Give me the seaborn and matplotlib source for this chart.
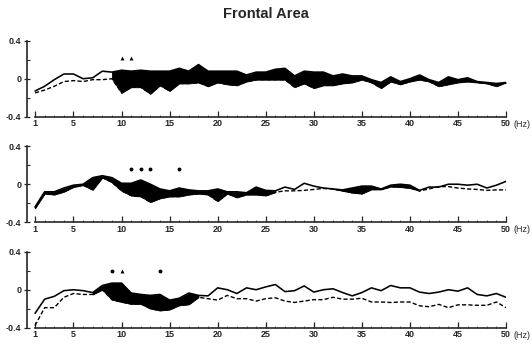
import numpy as np
import pandas as pd
import matplotlib
matplotlib.use("Agg")
import matplotlib.pyplot as plt
import seaborn as sns

# frequency bins (Hz)
freqs = list(range(1, 51))

# panel 1
p1_solid = [-0.13, -0.08, -0.01, 0.05, 0.05, 0.00, 0.01, 0.08, 0.07, 0.09,
            0.08, 0.09, 0.08, 0.08, 0.08, 0.11, 0.08, 0.15, 0.08, 0.08,
            0.08, 0.08, 0.04, 0.07, 0.07, 0.10, 0.11, 0.03, 0.08, 0.07,
            0.07, 0.03, 0.05, 0.03, 0.03, -0.01, -0.04, 0.02, -0.03, 0.00,
            0.04, -0.01, -0.04, 0.02, -0.01, 0.01, -0.03, -0.04, -0.05, -0.04]
p1_dashed = [-0.15, -0.12, -0.08, -0.03, -0.02, -0.03, -0.01, -0.01, 0.00, -0.15,
             -0.09, -0.09, -0.16, -0.07, -0.13, -0.05, -0.05, -0.04, -0.08, -0.04,
             -0.06, -0.07, -0.03, -0.01, -0.01, -0.01, -0.01, -0.09, -0.05, -0.10,
             -0.07, -0.07, -0.05, -0.04, -0.01, -0.04, -0.10, -0.03, -0.06, -0.03,
             -0.01, -0.03, -0.08, -0.06, -0.04, -0.03, -0.04, -0.05, -0.08, -0.04]
p1_fill = [(9, 50)]
p1_marks = [(10, "^"), (11, "^")]
p1_mark_y = 0.22

# panel 2
p2_solid = [-0.24, -0.08, -0.08, -0.04, -0.01, 0.00, 0.07, 0.09, 0.07, 0.01,
            0.01, 0.045, 0.00, -0.05, -0.07, -0.04, -0.06, -0.07, -0.07, -0.05,
            -0.08, -0.08, -0.09, -0.03, -0.065, -0.07, -0.03, -0.055, 0.01, -0.02,
            -0.04, -0.05, -0.06, -0.04, -0.02, -0.02, -0.05, -0.01, 0.00, -0.01,
            -0.065, -0.03, -0.03, 0.00, 0.00, -0.01, 0.00, -0.04, -0.01, 0.03]
p2_dashed = [-0.255, -0.10, -0.11, -0.08, -0.03, -0.01, -0.06, 0.07, 0.02, -0.07,
             -0.12, -0.13, -0.19, -0.15, -0.13, -0.13, -0.11, -0.10, -0.11, -0.18,
             -0.10, -0.14, -0.11, -0.11, -0.12, -0.085, -0.07, -0.07, -0.065, -0.055,
             -0.045, -0.05, -0.07, -0.09, -0.10, -0.055, -0.055, -0.025, -0.03, -0.04,
             -0.07, -0.05, -0.025, -0.025, -0.04, -0.05, -0.055, -0.065, -0.06, -0.06]
p2_fill = [(1, 26), (32, 41)]
p2_marks = [(11, "o"), (12, "o"), (13, "o"), (16, "o")]
p2_mark_y = 0.16

# panel 3
p3_solid = [-0.25, -0.10, -0.07, -0.01, 0.00, -0.01, -0.03, 0.045, 0.07, 0.07,
            -0.035, -0.05, -0.06, -0.05, -0.11, -0.09, -0.035, -0.06, -0.065, 0.02,
            0.00, -0.04, 0.02, 0.00, 0.03, 0.055, -0.02, -0.01, 0.04, -0.025,
            0.00, 0.01, -0.03, -0.065, -0.03, 0.02, -0.01, 0.045, 0.02, 0.02,
            -0.025, -0.04, -0.025, 0.00, -0.015, 0.02, -0.05, -0.065, -0.04, -0.08]
p3_dashed = [-0.38, -0.19, -0.19, -0.08, -0.04, -0.05, -0.05, 0.00, -0.105, -0.13,
             -0.15, -0.15, -0.20, -0.22, -0.21, -0.165, -0.155, -0.08, -0.095, -0.11,
             -0.06, -0.095, -0.095, -0.12, -0.095, -0.085, -0.12, -0.135, -0.12, -0.105,
             -0.105, -0.08, -0.10, -0.10, -0.09, -0.13, -0.13, -0.135, -0.13, -0.13,
             -0.17, -0.18, -0.155, -0.19, -0.16, -0.16, -0.165, -0.165, -0.13, -0.19]
p3_fill = [(7, 18)]
p3_marks = [(9, "o"), (10, "^"), (14, "o")]
p3_mark_y = 0.20

x_ticks = [1, 5, 10, 15, 20, 25, 30, 35, 40, 45, 50]
y_ticks = [-0.4, 0, 0.4]
y_labels = ["-0.4", "0", "0.4"]

sns.set_style("ticks")
plt.rcParams["font.family"] = ["Liberation Sans", "DejaVu Sans"]

fig = plt.figure(figsize=(5.32, 3.45), dpi=100)

panels = [
    (p1_solid, p1_dashed, p1_fill, p1_marks, p1_mark_y, 0.6623),
    (p2_solid, p2_dashed, p2_fill, p2_marks, p2_mark_y, 0.3565),
    (p3_solid, p3_dashed, p3_fill, p3_marks, p3_mark_y, 0.0507),
]

f_arr = np.array(freqs)
for solid, dashed, fills, marks, mark_y, bottom in panels:
    ax = fig.add_axes([0.0508, bottom, 0.9004, 0.219])
    df = pd.DataFrame({"freq": freqs, "solid": solid, "dashed": dashed})

    sns.lineplot(data=df, x="freq", y="solid", ax=ax, color="black", lw=1.15)
    sns.lineplot(data=df, x="freq", y="dashed", ax=ax, color="black", lw=1.0,
                 linestyle=(0, (3, 1.6)))

    # significant stretches drawn as black bands
    for lo, hi in fills:
        mask = (f_arr >= lo) & (f_arr <= hi)
        ax.fill_between(f_arr[mask], df["solid"][mask], df["dashed"][mask],
                        color="black", lw=0.6, edgecolor="black")

    for f, m in marks:
        ax.plot(f, mark_y, marker=m, color="black", ms=2.8, mew=0)

    ax.set_xlim(1 - 8 / 9.61, 50)
    ax.set_ylim(-0.4, 0.4)
    ax.set_xlabel("")
    ax.set_ylabel("")
    ax.spines["top"].set_visible(False)
    ax.spines["right"].set_visible(False)
    ax.spines["bottom"].set_bounds(1, 50)
    ax.spines["bottom"].set_linewidth(1.2)
    ax.spines["left"].set_linewidth(1.2)

    ax.set_xticks(x_ticks)
    ax.set_xticklabels([str(t) for t in x_ticks])
    ax.set_xticks(freqs, minor=True)
    ax.set_yticks(y_ticks)
    ax.set_yticklabels(y_labels)
    ax.set_yticks([-0.2, 0.2], minor=True)
    ax.tick_params(axis="x", which="major", direction="in", length=4, width=0.9,
                   labelsize=6.5, pad=2)
    ax.tick_params(axis="x", which="minor", direction="in", length=1.5, width=0.5)
    ax.tick_params(axis="y", which="major", direction="inout", length=4, width=0.9,
                   labelsize=6.5, pad=2)
    ax.tick_params(axis="y", which="minor", direction="in", length=2.5, width=0.8)
    for lab in ax.get_xticklabels() + ax.get_yticklabels():
        lab.set_fontweight("bold")

    ax.annotate("(Hz)", xy=(50.8, 0), xycoords=("data", "axes fraction"),
                xytext=(0, -2.5), textcoords="offset points",
                ha="left", va="top", fontsize=6.5)

fig.text(0.5, 0.96, "Frontal Area", ha="center", va="center",
         fontsize=10.5, fontweight="bold")

fig.savefig("out.png", dpi=100)
